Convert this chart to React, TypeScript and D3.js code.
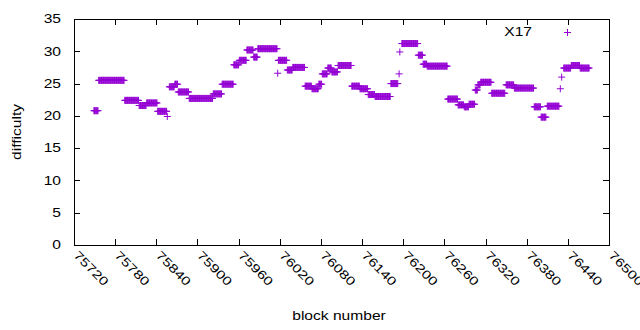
// @ts-nocheck
import * as d3 from 'd3';
import React from 'react';

// difficulty per block, stored as runs of equal value (first block, last block, value)
const runStart = [
  75749, 75756, 75794, 75815, 75826, 75842, 75856, 75859, 75867, 75872, 75888, 75923, 75936,
  75953, 75961, 75972, 75982, 75988, 76017, 76018, 76031, 76039, 76057, 76067, 76077, 76082,
  76090, 76096, 76105, 76125, 76137, 76149, 76159, 76182, 76194, 76195, 76198, 76222, 76229,
  76235, 76265, 76280, 76289, 76296, 76305, 76309, 76313, 76329, 76350, 76362, 76391, 76401,
  76410, 76429, 76431, 76434, 76445, 76458,
];
const runEnd = [
  75755, 75793, 75814, 75825, 75841, 75855, 75856, 75866, 75871, 75887, 75922, 75935, 75952,
  75960, 75971, 75981, 75987, 76016, 76017, 76030, 76038, 76056, 76066, 76076, 76081, 76089,
  76095, 76104, 76124, 76136, 76148, 76158, 76181, 76192, 76194, 76195, 76221, 76228, 76234,
  76264, 76279, 76288, 76295, 76304, 76308, 76312, 76328, 76348, 76361, 76390, 76400, 76408,
  76427, 76429, 76431, 76444, 76457, 76471,
];
const runValue = [
  20.8, 25.5, 22.4, 21.6, 22.0, 20.7, 19.9, 24.5, 24.9, 23.7, 22.7, 23.4, 24.9,
  27.9, 28.6, 30.2, 29.1, 30.4, 26.6, 28.6, 27.1, 27.5, 24.6, 24.2, 24.9, 26.5,
  27.4, 26.8, 27.8, 24.6, 24.2, 23.3, 23.0, 25.0, 26.5, 29.9, 31.2, 29.4, 28.0,
  27.7, 22.6, 21.7, 21.4, 21.8, 24.0, 24.8, 25.2, 23.5, 24.8, 24.3, 21.4, 19.8,
  21.5, 24.2, 26.0, 27.4, 27.8, 27.4,
];

const xTicks = d3.range(75720, 76501, 60);
const yTicks = d3.range(0, 36, 5);
const seriesName = 'X17';

const points = [];
runStart.forEach((s, i) => {
  for (let b = s; b <= runEnd[i]; b++) points.push({ block: b, value: runValue[i] });
});

const W = 640;
const H = 330;
const margin = { top: 19, right: 31, bottom: 85, left: 74 };
const color = '#9400d3';
const font = 'Liberation Sans, Arial, sans-serif';

// gnuplot's text comes out wider than Liberation Sans, so stretch along the baseline
const T = ({ x, y, rotate = 0, anchor = 'start', dy = '0', children }) => (
  <text
    transform={`translate(${x},${y}) rotate(${rotate}) scale(1.3,1)`}
    textAnchor={anchor}
    dy={dy}
    fontSize={12}
  >
    {children}
  </text>
);

export default function App() {
  const iw = W - margin.left - margin.right;
  const ih = H - margin.top - margin.bottom;
  const x = d3.scaleLinear().domain([75720, 76500]).range([0, iw]);
  const y = d3.scaleLinear().domain([0, 35]).range([ih, 0]);
  const ps = 3.5;
  const plus = (cx, cy) => `M${cx - ps},${cy}H${cx + ps}M${cx},${cy - ps}V${cy + ps}`;

  return (
    <div style={{ position: 'absolute', left: 0, top: 0 }}>
      <svg width={W} height={H} style={{ display: 'block', background: '#fff' }} fontFamily={font}>
        <g transform={`translate(${margin.left},${margin.top})`}>
          {/* y ticks */}
          {yTicks.map(t => (
            <g key={'y' + t}>
              <line x1={0} x2={6} y1={Math.round(y(t)) + 0.5} y2={Math.round(y(t)) + 0.5} stroke="#000" />
              <line x1={iw - 6} x2={iw} y1={Math.round(y(t)) + 0.5} y2={Math.round(y(t)) + 0.5} stroke="#000" />
              <T x={-13} y={y(t)} dy="0.36em" anchor="end">{t}</T>
            </g>
          ))}
          {/* x ticks */}
          {xTicks.map(t => (
            <g key={'x' + t}>
              <line x1={Math.round(x(t)) + 0.5} x2={Math.round(x(t)) + 0.5} y1={ih} y2={ih - 6} stroke="#000" />
              <line x1={Math.round(x(t)) + 0.5} x2={Math.round(x(t)) + 0.5} y1={0} y2={6} stroke="#000" />
              <T x={x(t) + 2} y={ih + 8} rotate={45} dy="0.36em">{t}</T>
            </g>
          ))}
          <rect x={0.5} y={0.5} width={iw} height={ih} fill="none" stroke="#000" />
          {/* data */}
          <path
            d={points.map(p => plus(x(p.block), y(p.value))).join('')}
            fill="none"
            stroke={color}
            strokeWidth={1}
          />
          {/* legend */}
          <T x={458} y={13} dy="0.36em" anchor="end">{seriesName}</T>
          <path d={plus(493.5, 13.5)} stroke={color} fill="none" />
        </g>
        <T x={339} y={320} anchor="middle">block number</T>
        <T x={21} y={132} rotate={-90} anchor="middle">difficulty</T>
      </svg>
    </div>
  );
}
